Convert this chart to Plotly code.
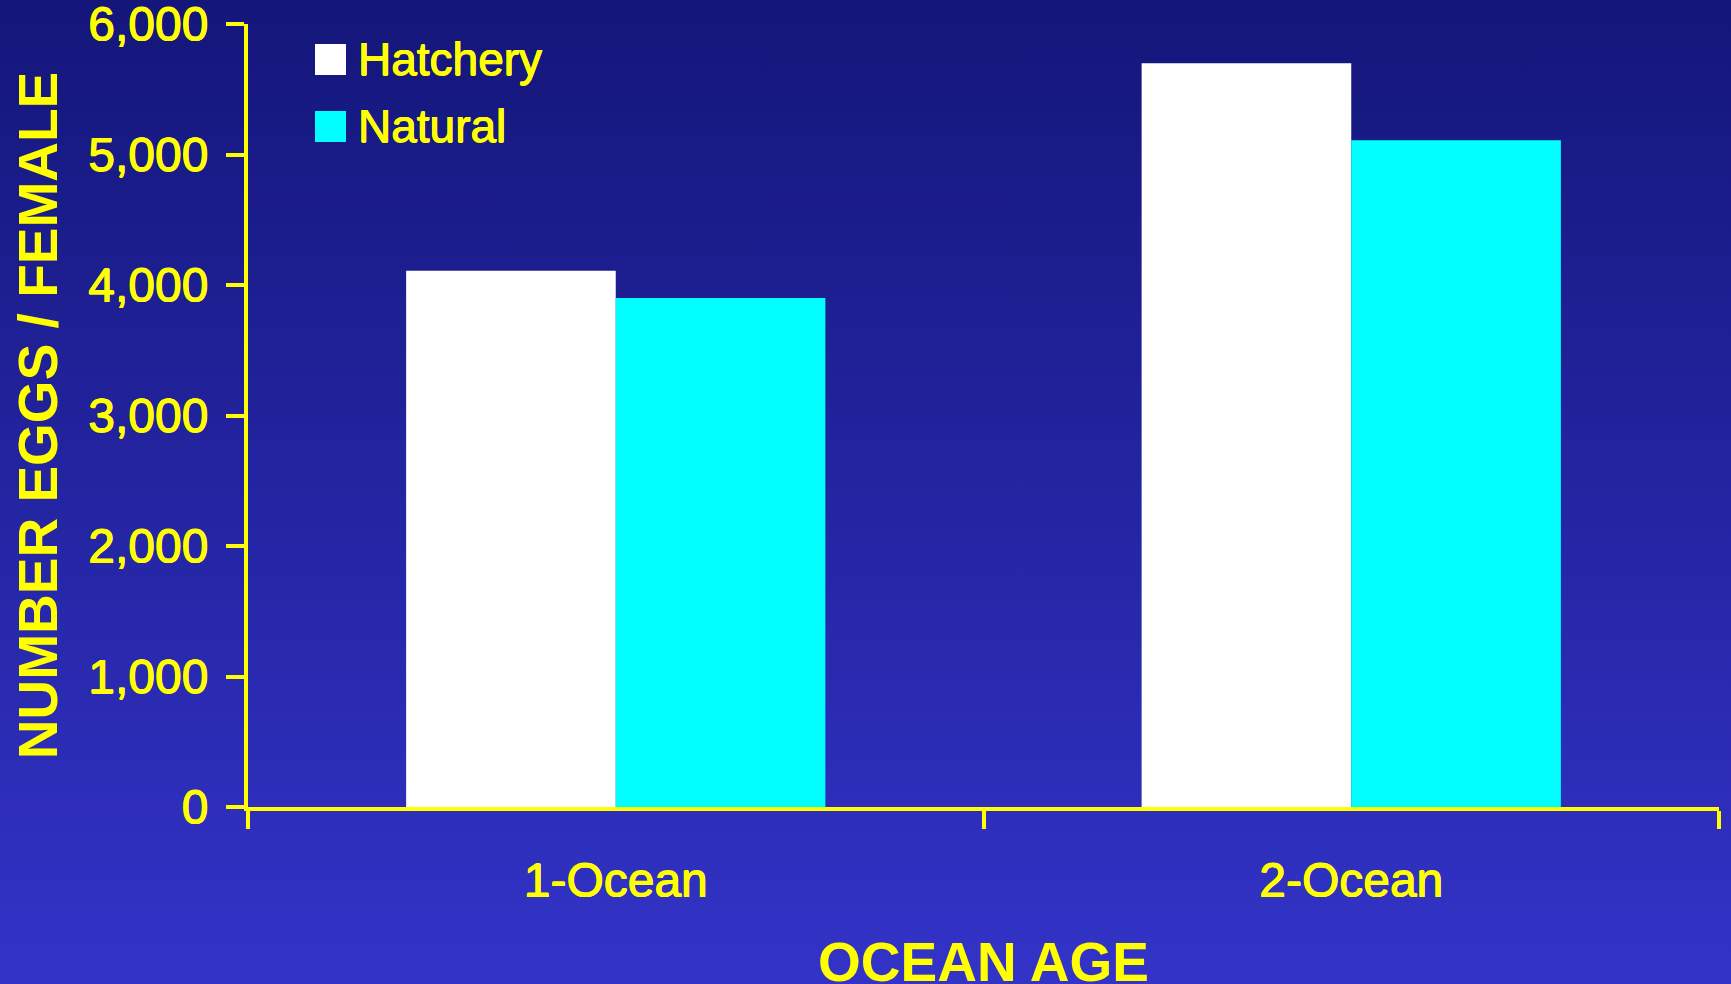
import base64
import plotly.graph_objects as go

# Egg counts per female by ocean age
categories = ["1-Ocean", "2-Ocean"]
series_names = ["Hatchery", "Natural"]
hatchery = [4110, 5700]
natural = [3900, 5110]
y_ticks = [0, 1000, 2000, 3000, 4000, 5000, 6000]

W, H = 1731, 984
L, R, T, B = 248, 12, 24, 177
plot_w = W - L - R
plot_h = H - T - B

YELLOW = "#ffff00"
FONT = "Liberation Sans, Arial, sans-serif"
# slight outline to give the regular-weight text a heavier stroke
HEAVY = "0.5px 0 0 #ffff00, -0.5px 0 0 #ffff00, 0 0.5px 0 #ffff00, 0 -0.5px 0 #ffff00"
colors = ["#ffffff", "#00ffff"]


def px_to_paper_x(px):
    return (px - L) / plot_w


def px_to_paper_y(py):
    return (H - B - py) / plot_h


fig = go.Figure()
for name, vals, col in zip(series_names, [hatchery, natural], colors):
    fig.add_trace(go.Bar(
        x=categories, y=vals, name=name,
        marker=dict(color=col, line=dict(width=0)),
        showlegend=False,
    ))

# vertical navy-to-blue backdrop
svg = (
    '<svg xmlns="http://www.w3.org/2000/svg" width="10" height="100" preserveAspectRatio="none">'
    '<defs><linearGradient id="g" x1="0" y1="0" x2="0" y2="1">'
    '<stop offset="0" stop-color="#14167a"/>'
    '<stop offset="1" stop-color="#3333c8"/>'
    '</linearGradient></defs>'
    '<rect width="10" height="100" fill="url(#g)"/></svg>'
)
bg_src = "data:image/svg+xml;base64," + base64.b64encode(svg.encode()).decode()
fig.add_layout_image(dict(
    source=bg_src, xref="paper", yref="paper",
    x=px_to_paper_x(0), y=px_to_paper_y(0),
    sizex=W / plot_w, sizey=H / plot_h,
    sizing="stretch", xanchor="left", yanchor="top", layer="below",
))

# legend: square swatches with labels
sw = 31
sw_x0 = 315
row_tops = [44, 111]
for name, col, top in zip(series_names, colors, row_tops):
    fig.add_shape(
        type="rect", xref="paper", yref="paper",
        x0=px_to_paper_x(sw_x0), x1=px_to_paper_x(sw_x0 + sw),
        y0=px_to_paper_y(top + sw), y1=px_to_paper_y(top),
        fillcolor=col, line=dict(width=0), layer="above",
    )
    fig.add_annotation(
        text=name, xref="paper", yref="paper",
        x=px_to_paper_x(356), y=px_to_paper_y(top + sw / 2 - 1),
        xanchor="left", yanchor="middle", showarrow=False,
        font=dict(family=FONT, size=46, color=YELLOW, shadow=HEAVY),
    )

# x-axis title, sitting low against the bottom edge
fig.add_annotation(
    text="<b>OCEAN AGE</b>", xref="paper", yref="paper",
    x=0.5, y=px_to_paper_y(962), xanchor="center", yanchor="middle",
    showarrow=False, font=dict(family=FONT, size=55, color=YELLOW),
)

fig.update_layout(
    width=W, height=H,
    margin=dict(l=L, r=R, t=T, b=B, pad=0, autoexpand=False),
    paper_bgcolor="#22229a",
    plot_bgcolor="rgba(0,0,0,0)",
    barmode="group", bargap=0.43, bargroupgap=0,
    font=dict(family=FONT, color=YELLOW),
)
fig.update_xaxes(
    type="category", range=[-0.5, 1.5], automargin=False,
    tickson="boundaries", ticks="outside", ticklen=18, tickwidth=4, tickcolor=YELLOW,
    showline=True, linecolor=YELLOW, linewidth=4,
    showgrid=False, zeroline=False,
    tickfont=dict(family=FONT, size=48, color=YELLOW, shadow=HEAVY),
    ticklabelstandoff=28,
)
fig.update_yaxes(
    range=[0, 6000], tickvals=y_ticks, tickformat=",d", automargin=True,
    ticks="outside", ticklen=18, tickwidth=4, tickcolor=YELLOW,
    showline=True, linecolor=YELLOW, linewidth=4,
    showgrid=False, zeroline=False,
    tickfont=dict(family=FONT, size=48, color=YELLOW, shadow=HEAVY),
    ticklabelstandoff=8, ticklabeloverflow="allow",
    title=dict(text="<b>NUMBER EGGS / FEMALE</b>", font=dict(family=FONT, size=55, color=YELLOW), standoff=14),
)

fig.write_html("out.html")
